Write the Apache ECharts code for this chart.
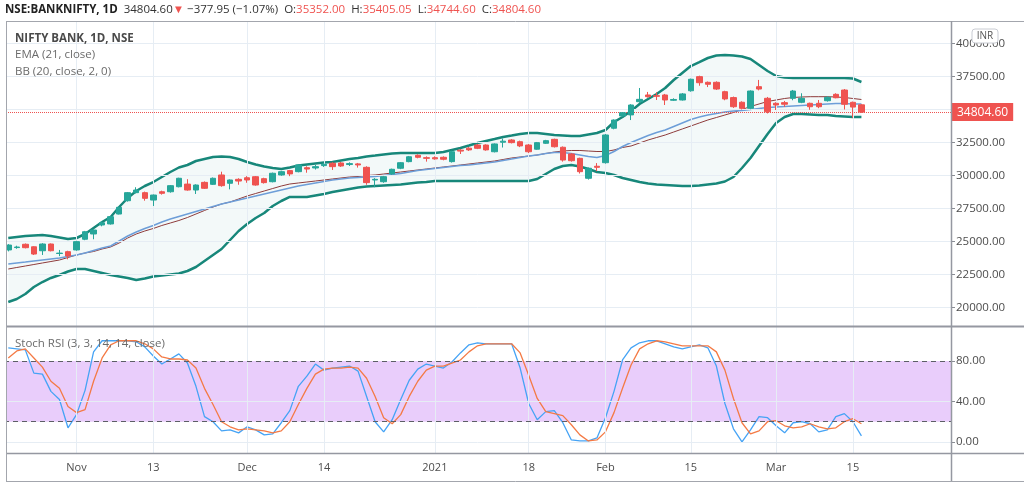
<!DOCTYPE html>
<html>
<head>
<meta charset="utf-8">
<script src="https://cdn.jsdelivr.net/npm/echarts@6/dist/echarts.min.js"></script>
<style>
html,body{margin:0;padding:0;background:#fff;}
#chart{width:1024px;height:487px;}
</style>
</head>
<body>
<div id="chart"></div>
<script>
// trading days shown (NSE, daily bars)
var dates = [
  '2020-10-21','2020-10-22','2020-10-23','2020-10-26','2020-10-27','2020-10-28','2020-10-29','2020-10-30',
  '2020-11-02','2020-11-03','2020-11-04','2020-11-05','2020-11-06','2020-11-09','2020-11-10','2020-11-11','2020-11-12','2020-11-13','2020-11-14','2020-11-17','2020-11-18','2020-11-19','2020-11-20','2020-11-23','2020-11-24','2020-11-25','2020-11-26','2020-11-27',
  '2020-12-01','2020-12-02','2020-12-03','2020-12-04','2020-12-07','2020-12-08','2020-12-09','2020-12-10','2020-12-11','2020-12-14','2020-12-15','2020-12-16','2020-12-17','2020-12-18','2020-12-21','2020-12-22','2020-12-23','2020-12-24','2020-12-28','2020-12-29','2020-12-30','2020-12-31',
  '2021-01-01','2021-01-04','2021-01-05','2021-01-06','2021-01-07','2021-01-08','2021-01-11','2021-01-12','2021-01-13','2021-01-14','2021-01-15','2021-01-18','2021-01-19','2021-01-20','2021-01-21','2021-01-22','2021-01-25','2021-01-27','2021-01-28','2021-01-29',
  '2021-02-01','2021-02-02','2021-02-03','2021-02-04','2021-02-05','2021-02-08','2021-02-09','2021-02-10','2021-02-11','2021-02-12','2021-02-15','2021-02-16','2021-02-17','2021-02-18','2021-02-19','2021-02-22','2021-02-23','2021-02-24','2021-02-25','2021-02-26',
  '2021-03-01','2021-03-02','2021-03-03','2021-03-04','2021-03-05','2021-03-08','2021-03-09','2021-03-10','2021-03-12','2021-03-15','2021-03-16'
];

var opens = [24360,24540,24790,24600,24300,24810,24090,24230,24360,25170,25570,26250,26330,27080,28090,28700,28700,28140,28770,28770,
  29150,29350,28900,29480,29330,30040,29410,29710,29830,29910,29760,29530,30040,30370,30290,30590,30570,30750,30930,30950,
  30830,30880,30620,29660,29530,30120,30550,31050,31530,31350,31350,31380,31050,31920,32070,32310,32310,31800,32520,32690,
  32560,32310,31990,32440,32740,32140,31630,31300,29790,30700,30970,33580,34510,34590,35590,36100,36050,36100,35700,35720,
  36420,37490,37060,37060,36350,35900,35550,35090,36730,35850,35470,35520,35850,35545,35470,35470,35665,36150,36475,35545,35352];
var closes = [24730,24580,24530,24050,24810,24300,24120,23900,24990,25740,25870,26420,26880,27590,28700,28900,28270,28520,28650,29230,
  29790,28900,29280,29030,29790,29230,29660,29580,29660,29280,29460,30170,30290,30120,30800,30490,30670,30850,30670,30720,
  30900,30800,29460,29710,29910,30470,30970,31420,31380,31300,31260,31230,31800,31850,31940,32060,31940,32390,32600,32490,
  32240,31800,32490,32640,32180,31170,31120,30290,30550,30620,33070,34200,34760,35340,35770,35970,36000,35720,35760,36180,
  37290,37030,36910,36550,35800,35210,35090,36400,36550,34830,35340,35400,36400,35850,35210,35210,35925,35890,35395,35182.55,34804.6];
var lows = [24250,24450,24480,23980,23980,24250,23890,23650,24300,25100,25170,26150,26280,27050,28020,28640,28090,27690,28550,28700,
  29100,28850,28600,28980,29280,29150,28950,29300,29450,29230,29390,29480,29980,29950,30240,30210,30450,30650,30420,30650,
  30720,30600,29300,29110,29450,30050,30480,31000,31300,31050,31200,31150,30980,31630,31860,32000,31880,31750,32120,32430,
  32150,31700,31950,32390,32120,31050,31050,30150,29690,30330,30900,33500,34450,34200,35500,35900,35720,35340,35650,35680,
  36350,36800,36700,36480,35700,35120,35000,35020,36450,34700,34960,35200,35700,35480,34980,35100,35600,35850,35000,34380,34744.6];
var highs = [24800,24680,24850,24640,24870,24850,24360,24300,25050,25800,25920,26550,26930,27650,28750,29110,28780,28560,28850,29280,
  29830,29720,29330,29550,29850,30290,29700,29790,29950,29960,29830,30220,30350,30420,30850,30700,30800,30950,31000,31020,
  31000,30950,30700,29800,29970,30520,31020,31480,31600,31450,31450,31450,31870,32000,32150,32380,32360,32430,32800,32750,
  32640,32380,32540,32700,32790,32200,31700,31350,30600,30940,33140,34250,34800,35400,36630,36330,36300,36180,35850,36250,
  37340,37560,37120,37130,36420,35980,35620,36450,37240,35950,35550,35650,36480,36230,35520,35720,36000,36230,36550,35600,35405.05];

// BB (20, close, 2, 0) and EMA (21, close)
var bbUpper = [25265,25341,25416,25454,25492,25416,25303,25189,25265,25568,26023,26477,26856,27614,28296,28826,29204,29507,29887,30265,
  30606,30795,31098,31250,31402,31440,31402,31250,31022,30833,30682,30568,30492,30606,30757,30833,30909,30985,31022,31136,
  31250,31326,31440,31515,31591,31667,31705,31705,31705,31705,31705,31780,31932,32084,32273,32463,32614,32765,32917,33030,
  33144,33220,33220,33144,33068,33030,32992,32992,33106,33220,33447,34053,34432,34886,35417,35796,36175,36629,37235,37766,
  38295,38598,38902,39091,39129,39091,39016,38826,38371,37917,37538,37425,37387,37387,37387,37387,37387,37387,37387,37349,37083];
var bbLower = [20416,20644,21023,21553,21931,22235,22462,22727,22916,22916,22765,22614,22462,22349,22235,22083,22197,22349,22424,22500,
  22576,22765,23068,23522,23977,24432,25114,25795,26326,26780,27159,27689,28068,28372,28372,28372,28485,28599,28750,28864,
  28977,29091,29167,29204,29242,29280,29318,29394,29470,29507,29583,29583,29583,29583,29583,29583,29583,29583,29583,29583,
  29583,29583,29735,30114,30492,30719,30795,30682,30492,30265,30190,30038,29811,29659,29507,29394,29318,29280,29242,29204,
  29204,29242,29318,29394,29545,29887,30568,31326,32235,33144,33978,34432,34659,34659,34621,34583,34583,34508,34470,34432,34432];
var bbBasis = [22916,23030,23143,23257,23371,23484,23598,23788,23977,24129,24242,24432,24584,24887,25265,25568,25795,25985,26212,26402,
  26591,26818,27083,27348,27613,27841,27992,28220,28447,28637,28826,29015,29204,29356,29432,29507,29583,29659,29735,29811,
  29886,29924,30000,30038,30114,30190,30265,30341,30417,30492,30568,30644,30719,30795,30871,30947,31022,31098,31212,31326,
  31402,31477,31553,31667,31780,31856,31894,31894,31856,31818,31818,31932,32122,32235,32463,32690,32879,33068,33295,33523,
  33750,33978,34205,34394,34583,34773,35000,35228,35417,35606,35720,35834,35910,35948,35970,35970,35970,35948,35910,35834,35758];
var ema21 = [23295,23371,23446,23522,23598,23674,23750,23864,23977,24129,24318,24508,24659,25038,25416,25719,25985,26212,26477,26704,
  26894,27083,27272,27462,27652,27841,27992,28144,28296,28447,28599,28750,28902,29053,29204,29318,29432,29545,29659,29735,
  29811,29849,29886,29924,30000,30076,30152,30265,30379,30455,30530,30606,30682,30757,30795,30871,30947,31022,31136,31250,
  31364,31477,31553,31667,31742,31742,31667,31553,31439,31364,31515,31818,32197,32500,32766,33031,33258,33447,33713,33978,
  34242,34432,34583,34697,34811,34886,34924,35000,35076,35152,35190,35228,35265,35303,35341,35379,35417,35455,35455,35417,35417];

// Stoch RSI (3, 3, 14, 14, close)
var stochK = [93,92,91,68,67,50,42,14,27,51,89,100,100,100,100,99,94,85,77,82,
  87,78,55,25,20,11,12,9,15,12,7,8,19,31,55,65,77,71,73,74,
  75,70,45,20,10,22,42,61,72,77,75,73,79,88,96,98,97,97,97,97,
  73,38,22,30,31,19,2,1,1,4,24,50,81,93,98,100,100,97,94,92,
  94,96,93,75,38,13,0,12,25,24,16,9,19,20,18,10,12,25,28,20,6];
var stochD = [83,90,92,83,74,60,53,35,29,32,60,83,96,100,100,100,97,92,84,82,
  82,81,73,53,37,20,15,12,13,12,11,9,11,20,37,53,67,72,73,73,
  74,73,63,45,24,18,27,45,60,71,75,75,78,81,89,95,97,97,97,97,
  88,66,43,30,28,26,17,7,1,2,10,29,53,76,92,97,100,99,97,95,
  95,95,95,89,71,43,19,8,11,20,21,16,14,15,18,15,13,14,20,23,18];

var priceTicks = [20000,22500,25000,27500,30000,32500,35000,37500,40000];
var stochTicks = [0,40,80];
var tickDates = ['2020-11-02','2020-11-13','2020-12-01','2020-12-14','2021-01-01','2021-01-18','2021-02-01','2021-02-15','2021-03-01','2021-03-15'];
var tickTexts = ['Nov','13','Dec','14','2021','18','Feb','15','Mar','15'];
var lastClose = 34804.6;

var UP = '#26a69a', DOWN = '#ef5350', BAND = '#17877a', GRIDC = '#e6edf4', FONT = '"Open Sans", "Noto Sans", sans-serif';

// empty bars on the right like the TradingView margin
var cats = dates.slice();
for (var k = 1; k <= 10; k++) cats.push('pad' + k);

var candles = dates.map(function(d, i){ return [opens[i], closes[i], lows[i], highs[i]]; });
var bandFill = bbUpper.map(function(v, i){ return v - bbLower[i]; });

var vLines = tickDates.map(function(d){ return {xAxis: d}; });
var hLines = priceTicks.map(function(v){ return {yAxis: v}; });

function lineSeries(name, data, color, width, z) {
  return {name:name, type:'line', data:data, xAxisIndex:0, yAxisIndex:0, showSymbol:false, silent:true, z:z,
    lineStyle:{color:color, width:width}};
}

var chart = echarts.init(document.getElementById('chart'), null, {renderer:'canvas'});
chart.setOption({
  animation:false,
  textStyle:{fontFamily:FONT},
  grid:[
    {left:4, right:73, top:21, height:305},
    {left:4, right:73, top:327, height:126}
  ],
  xAxis:[
    {type:'category', gridIndex:0, data:cats, boundaryGap:true,
      axisLine:{show:false}, axisTick:{show:false}, axisLabel:{show:false}, splitLine:{show:false}},
    {type:'category', gridIndex:1, data:cats, boundaryGap:true,
      axisLine:{show:false},
      axisTick:{show:true, alignWithLabel:true, length:4, lineStyle:{color:'#8a8d94'},
        interval:function(i, v){ return tickDates.indexOf(v) >= 0; }},
      axisLabel:{color:'#4d4d4d', fontSize:11, margin:9,
        interval:function(i, v){ return tickDates.indexOf(v) >= 0; },
        formatter:function(v){ var j = tickDates.indexOf(v); return j >= 0 ? tickTexts[j] : ''; }},
      splitLine:{show:false}}
  ],
  yAxis:[
    {type:'value', gridIndex:0, position:'right', min:18598, max:41705,
      axisLine:{show:false},
      axisTick:{show:true, customValues:priceTicks, length:4, lineStyle:{color:'#8a8d94'}},
      axisLabel:{customValues:priceTicks, color:'#4d4d4d', fontSize:11.5, margin:5,
        formatter:function(v){ return v.toFixed(2); }},
      splitLine:{show:false}},
    {type:'value', gridIndex:1, position:'right', min:-10.9, max:113.6,
      axisLine:{show:false},
      axisTick:{show:true, customValues:stochTicks, length:4, lineStyle:{color:'#8a8d94'}},
      axisLabel:{customValues:stochTicks, color:'#4d4d4d', fontSize:11.5, margin:5,
        formatter:function(v){ return v.toFixed(2); }},
      splitLine:{show:false}}
  ],
  series:[
    // lower band as stack base, also carries the price grid
    {name:'bbBase', type:'line', data:bbLower, stack:'bb', xAxisIndex:0, yAxisIndex:0, showSymbol:false, silent:true, z:1,
      lineStyle:{opacity:0},
      markLine:{silent:true, symbol:'none', label:{show:false}, lineStyle:{color:GRIDC, width:1, type:'solid'},
        data:hLines.concat(vLines)}},
    {name:'bbFill', type:'line', data:bandFill, stack:'bb', xAxisIndex:0, yAxisIndex:0, showSymbol:false, silent:true, z:2,
      lineStyle:{opacity:0}, areaStyle:{color:'rgba(25,135,135,0.07)'}},
    lineSeries('BB upper', bbUpper, BAND, 2.5, 3),
    lineSeries('BB lower', bbLower, BAND, 2.5, 3),
    lineSeries('BB basis', bbBasis, '#8d3b3b', 1, 4),
    lineSeries('EMA 21', ema21, '#6d9ed8', 1.5, 4),
    {name:'NIFTY BANK', type:'candlestick', data:candles, xAxisIndex:0, yAxisIndex:0, barWidth:6, z:5, silent:true,
      itemStyle:{color:UP, color0:DOWN, borderColor:UP, borderColor0:DOWN, borderWidth:1},
      markLine:{silent:true, symbol:'none', data:[{yAxis:lastClose}],
        lineStyle:{color:DOWN, type:'dotted', width:1},
        label:{position:'end', distance:1, formatter:lastClose.toFixed(2), color:'#fff', backgroundColor:DOWN,
          padding:[3,5,3,5], fontSize:12, fontFamily:FONT}}},
    // stoch pane background, grid and levels
    {name:'stochBg', type:'line', data:stochK, xAxisIndex:1, yAxisIndex:1, showSymbol:false, silent:true, z:1,
      lineStyle:{opacity:0},
      markArea:{silent:true, itemStyle:{color:'#e9cdfb'}, data:[[{yAxis:20},{yAxis:80}]]},
      markLine:{silent:true, symbol:'none', label:{show:false}, lineStyle:{color:GRIDC, width:1, type:'solid'},
        data:[{yAxis:0},{yAxis:40}].concat(vLines)}},
    {name:'levels', type:'line', data:stochD, xAxisIndex:1, yAxisIndex:1, showSymbol:false, silent:true, z:2,
      lineStyle:{opacity:0},
      markLine:{silent:true, symbol:'none', label:{show:false}, lineStyle:{color:'#5d5f66', width:1, type:[5,4]},
        data:[{yAxis:20},{yAxis:80}]}},
    {name:'K', type:'line', data:stochK, xAxisIndex:1, yAxisIndex:1, showSymbol:false, silent:true, z:3,
      lineStyle:{color:'#45a3f5', width:1.3}},
    {name:'D', type:'line', data:stochD, xAxisIndex:1, yAxisIndex:1, showSymbol:false, silent:true, z:4,
      lineStyle:{color:'#f47a45', width:1.3}}
  ],
  graphic:[
    {type:'rect', z:50, shape:{x:0, y:21, width:6.5, height:462}, style:{fill:'#fff'}},
    {type:'line', z:51, shape:{x1:7, y1:21.5, x2:1024, y2:21.5}, style:{stroke:'#a3a6ad', lineWidth:1}},
    {type:'line', z:51, shape:{x1:6.5, y1:21, x2:6.5, y2:482}, style:{stroke:'#a3a6ad', lineWidth:1}},
    {type:'line', z:51, shape:{x1:7, y1:326.5, x2:1024, y2:326.5}, style:{stroke:'#9598a1', lineWidth:2}},
    {type:'line', z:51, shape:{x1:7, y1:453.5, x2:1024, y2:453.5}, style:{stroke:'#9598a1', lineWidth:1.5}},
    {type:'line', z:51, shape:{x1:951.5, y1:21, x2:951.5, y2:482}, style:{stroke:'#9598a1', lineWidth:1.5}},
    {type:'line', z:51, shape:{x1:7, y1:481.5, x2:1024, y2:481.5}, style:{stroke:'#a3a6ad', lineWidth:1}},
    {type:'rect', z:52, shape:{x:972, y:29, width:26, height:14, r:3}, style:{fill:'#fff', stroke:'#c9ccd3', lineWidth:1}},
    {type:'text', z:53, x:985, y:36, style:{text:'INR', fill:'#555', font:'10px ' + FONT, align:'center', verticalAlign:'middle'}},
    {type:'text', z:53, x:5, y:10, style:{
      text:'{b|NSE:BANKNIFTY, 1D}  {n|34804.60}{r|▼} {n|\u2212377.95 (\u22121.07%)}  {n|O:}{r|35352.00}  {n|H:}{r|35405.05}  {n|L:}{r|34744.60}  {n|C:}{r|34804.60}',
      verticalAlign:'middle', font:'11.5px ' + FONT,
      rich:{
        b:{fontWeight:'bold', fill:'#222', fontSize:11.5, fontFamily:FONT},
        n:{fill:'#333', fontSize:11.5, fontFamily:FONT},
        r:{fill:'#ef5350', fontSize:11.5, fontFamily:FONT}
      }}},
    {type:'text', z:53, x:15, y:39, style:{text:'NIFTY BANK, 1D, NSE', fill:'#4a4a4a', font:'bold 11.5px ' + FONT, verticalAlign:'middle'}},
    {type:'text', z:53, x:15, y:55, style:{text:'EMA (21, close)', fill:'#6b6b6b', font:'11.5px ' + FONT, verticalAlign:'middle'}},
    {type:'text', z:53, x:15, y:72, style:{text:'BB (20, close, 2, 0)', fill:'#6b6b6b', font:'11.5px ' + FONT, verticalAlign:'middle'}},
    {type:'text', z:53, x:15, y:344, style:{text:'Stoch RSI (3, 3, 14, 14, close)', fill:'#6b6b6b', font:'11.5px ' + FONT, verticalAlign:'middle'}}
  ]
});
</script>
</body>
</html>
